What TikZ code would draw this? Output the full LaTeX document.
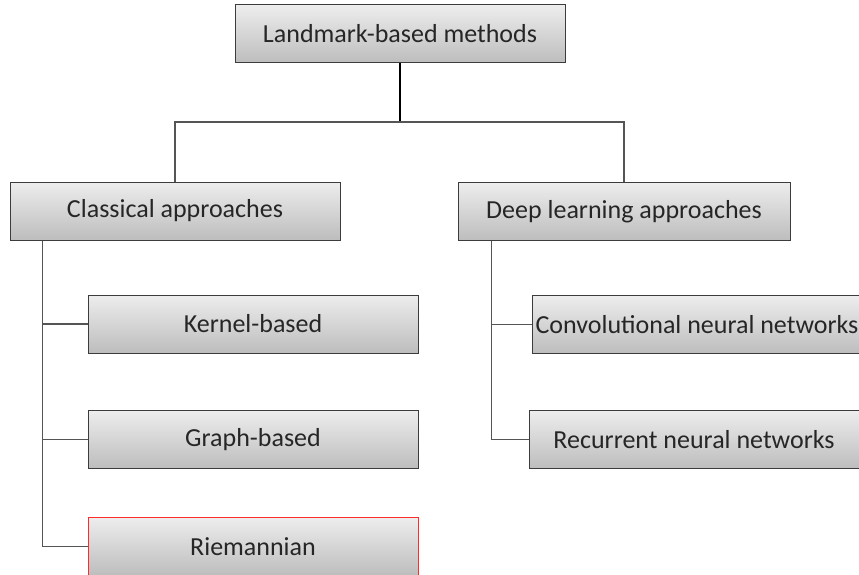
\documentclass[tikz,border=0pt]{standalone}
\usepackage{fontspec}
\setmainfont{Carlito}
\definecolor{boxtop}{HTML}{EDEDED}
\definecolor{boxbot}{HTML}{BDBDBD}
\definecolor{boxline}{HTML}{3C3C3C}
\definecolor{connline}{HTML}{555555}
\definecolor{redline}{HTML}{FF2A2A}
\begin{document}
\begin{tikzpicture}[x=1pt,y=-1pt,
  box/.style={draw=boxline, line width=1pt, top color=boxtop, bottom color=boxbot,
    minimum width=330pt, minimum height=58pt, inner sep=0pt,
    font=\fontsize{26}{30}\selectfont, text=black!85},
  conn/.style={draw=connline, line width=1.3pt},
  mainconn/.style={draw=black, line width=1.8pt}]
\clip (0,0) rectangle (859,575);
\fill[white] (0,0) rectangle (859,575);
\node[box] (top) at (400,34) {Landmark-based methods};
\node[box] (classical) at (175,211) {Classical approaches};
\node[box, minimum width=332pt] (deep) at (624,211.5) {Deep learning approaches};
\node[box] (kernel) at (253,324) {Kernel-based};
\node[box] (graph) at (253,439.5) {Graph-based};
\node[box, draw=redline] (riem) at (253,546.5) {Riemannian};
\node[box] (cnn) at (697,324.5) {Convolutional neural networks};
\node[box] (rnn) at (694,439.5) {Recurrent neural networks};
\coordinate (j) at (400,122);
\draw[mainconn] (top.south) -- (j);
\draw[conn] (classical.north) |- (j) -| (deep.north);
\draw[conn] ([xshift=33pt]classical.south west) |- (kernel.west);
\draw[conn] ([xshift=33pt]classical.south west) |- (graph.west);
\draw[conn] ([xshift=33pt]classical.south west) |- (riem.west);
\draw[conn] ([xshift=34pt]deep.south west) |- (cnn.west);
\draw[conn] ([xshift=34pt]deep.south west) |- (rnn.west);
\end{tikzpicture}
\end{document}
